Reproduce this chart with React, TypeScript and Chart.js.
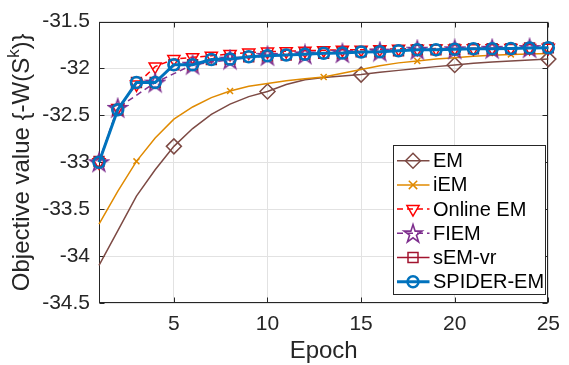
import React, { useEffect, useRef } from 'react';
import { Chart, registerables } from 'chart.js';

Chart.register(...registerables);

// ---------- data ----------
const epochs = [1, 2, 3, 4, 5, 6, 7, 8, 9, 10, 11, 12, 13, 14, 15, 16, 17, 18, 19, 20, 21, 22, 23, 24, 25];

const emValues = [-34.1, -33.73, -33.36, -33.08, -32.83, -32.64, -32.49, -32.38, -32.3, -32.245, -32.17, -32.12, -32.095, -32.08, -32.065, -32.04, -32.02, -32.0, -31.98, -31.962, -31.945, -31.93, -31.92, -31.91, -31.9];
const emMarkerEpochs = [5, 10, 15, 20, 25];

const iemValues = [-33.66, -33.31, -32.99, -32.74, -32.54, -32.41, -32.31, -32.24, -32.19, -32.16, -32.13, -32.11, -32.09, -32.05, -32.01, -31.97, -31.94, -31.92, -31.9, -31.885, -31.87, -31.86, -31.85, -31.845, -31.84];
const iemMarkerEpochs = [3, 8, 13, 18, 23];

const onlineEmValues = [-33.0, -32.42, -32.17, -31.98, -31.9, -31.88, -31.865, -31.845, -31.83, -31.82, -31.815, -31.81, -31.805, -31.8, -31.8, -31.795, -31.79, -31.79, -31.788, -31.786, -31.785, -31.784, -31.782, -31.781, -31.78];

const fiemEpochs = [1, 2, 4, 6, 8, 10, 12, 14, 16, 18, 20, 22, 24];
const fiemValues = [-33.0, -32.42, -32.15, -31.96, -31.905, -31.865, -31.85, -31.835, -31.82, -31.8, -31.795, -31.79, -31.782];

const semvrValues = [-32.99, -32.44, -32.15, -32.15, -31.96, -31.96, -31.905, -31.9, -31.875, -31.865, -31.857, -31.847, -31.837, -31.835, -31.823, -31.822, -31.81, -31.8, -31.8, -31.795, -31.79, -31.79, -31.788, -31.782, -31.78];

const spiderValues = [-33.0, -32.44, -32.15, -32.15, -31.96, -31.96, -31.905, -31.9, -31.875, -31.865, -31.857, -31.847, -31.837, -31.835, -31.823, -31.822, -31.81, -31.8, -31.8, -31.795, -31.79, -31.79, -31.788, -31.782, -31.78];

const xTicks = [5, 10, 15, 20, 25];
const yTicks = [-34.5, -34, -33.5, -33, -32.5, -32, -31.5];
const yTickLabels = ['-34.5', '-34', '-33.5', '-33', '-32.5', '-32', '-31.5'];

const legendLabels = ['EM', 'iEM', 'Online EM', 'FIEM', 'sEM-vr', 'SPIDER-EM'];
const xTitle = 'Epoch';

// ---------- styles ----------
const FONT = '"Liberation Sans", Arial, Helvetica, sans-serif';
const AXIS_COLOR = '#262626';
const GRID_COLOR = '#E2E2E2';
const C_EM = '#7D4A44';
const C_IEM = '#E08A00';
const C_ONLINE = '#FF0000';
const C_FIEM = '#7E2F8E';
const C_SEMVR = '#A2142F';
const C_SPIDER = '#0072BD';

function starPath(ctx: CanvasRenderingContext2D, cx: number, cy: number, R: number) {
  const r = R * 0.382;
  ctx.beginPath();
  for (let i = 0; i < 10; i++) {
    const ang = -Math.PI / 2 + (i * Math.PI) / 5;
    const rad = i % 2 === 0 ? R : r;
    const px = cx + Math.cos(ang) * rad;
    const py = cy + Math.sin(ang) * rad;
    if (i === 0) ctx.moveTo(px, py);
    else ctx.lineTo(px, py);
  }
  ctx.closePath();
}

function makeStarCanvas(): HTMLCanvasElement {
  const c = document.createElement('canvas');
  c.width = 22;
  c.height = 22;
  const ctx = c.getContext('2d')!;
  ctx.strokeStyle = C_FIEM;
  ctx.lineWidth = 1.6;
  ctx.lineJoin = 'miter';
  starPath(ctx, 11, 11.8, 9.5);
  ctx.stroke();
  return c;
}

function drawLegendMarker(ctx: CanvasRenderingContext2D, kind: string, x: number, y: number, color: string) {
  ctx.save();
  ctx.strokeStyle = color;
  ctx.fillStyle = '#fff';
  ctx.setLineDash([]);
  if (kind === 'diamond') {
    ctx.lineWidth = 1.5;
    const r = 7.5;
    ctx.beginPath();
    ctx.moveTo(x, y - r);
    ctx.lineTo(x + r, y);
    ctx.lineTo(x, y + r);
    ctx.lineTo(x - r, y);
    ctx.closePath();
    ctx.stroke();
  } else if (kind === 'x') {
    ctx.lineWidth = 1.5;
    const r = 4.2;
    ctx.beginPath();
    ctx.moveTo(x - r, y - r);
    ctx.lineTo(x + r, y + r);
    ctx.moveTo(x + r, y - r);
    ctx.lineTo(x - r, y + r);
    ctx.stroke();
  } else if (kind === 'tri') {
    ctx.lineWidth = 1.5;
    const r = 7;
    ctx.beginPath();
    for (let i = 0; i < 3; i++) {
      const a = Math.PI / 2 + (i * 2 * Math.PI) / 3;
      const px = x + Math.cos(a) * r;
      const py = y + Math.sin(a) * r;
      if (i === 0) ctx.moveTo(px, py);
      else ctx.lineTo(px, py);
    }
    ctx.closePath();
    ctx.stroke();
  } else if (kind === 'star') {
    ctx.lineWidth = 1.6;
    starPath(ctx, x, y + 0.8, 9.5);
    ctx.stroke();
  } else if (kind === 'square') {
    ctx.lineWidth = 1.5;
    const h = 5;
    ctx.strokeRect(x - h, y - h, 2 * h, 2 * h);
  } else if (kind === 'circle') {
    ctx.lineWidth = 2.5;
    ctx.beginPath();
    ctx.arc(x, y, 5.5, 0, Math.PI * 2);
    ctx.stroke();
  }
  ctx.restore();
}

const legendSpecs = [
  { color: C_EM, dash: [] as number[], width: 1.5, marker: 'diamond' },
  { color: C_IEM, dash: [] as number[], width: 1.5, marker: 'x' },
  { color: C_ONLINE, dash: [6, 4], width: 1.5, marker: 'tri' },
  { color: C_FIEM, dash: [6, 4], width: 1.5, marker: 'star' },
  { color: C_SEMVR, dash: [] as number[], width: 1.5, marker: 'square' },
  { color: C_SPIDER, dash: [] as number[], width: 3, marker: 'circle' },
];

const decorPlugin = {
  id: 'decor',
  beforeDatasetsDraw(chart: any) {
    const { ctx, chartArea } = chart;
    const xs = chart.scales.x;
    const ys = chart.scales.y;
    const L = Math.round(chartArea.left) + 0.5;
    const R = Math.round(chartArea.right) - 0.5;
    const T = Math.round(chartArea.top) + 0.5;
    const B = Math.round(chartArea.bottom) - 0.5;
    ctx.save();
    ctx.strokeStyle = AXIS_COLOR;
    ctx.lineWidth = 1;
    ctx.strokeRect(L, T, R - L, B - T);
    const tl = 5;
    ctx.beginPath();
    xTicks.forEach((v) => {
      const px = Math.round(xs.getPixelForValue(v)) + 0.5;
      ctx.moveTo(px, B);
      ctx.lineTo(px, B - tl);
      ctx.moveTo(px, T);
      ctx.lineTo(px, T + tl);
    });
    yTicks.forEach((v) => {
      const py = Math.round(ys.getPixelForValue(v)) + 0.5;
      ctx.moveTo(L, py);
      ctx.lineTo(L + tl, py);
      ctx.moveTo(R, py);
      ctx.lineTo(R - tl, py);
    });
    ctx.stroke();
    ctx.restore();
  },
  afterDraw(chart: any) {
    const { ctx, chartArea } = chart;
    ctx.save();
    // y-axis title with superscript
    const f = 24;
    const p1 = 'Objective value {-W(S';
    const p2 = 'k';
    const p3 = ')}';
    ctx.fillStyle = AXIS_COLOR;
    ctx.font = `${f}px ${FONT}`;
    const w1 = ctx.measureText(p1).width;
    const w3 = ctx.measureText(p3).width;
    ctx.font = `${f * 0.7}px ${FONT}`;
    const w2 = ctx.measureText(p2).width;
    const total = w1 + w2 + w3;
    ctx.translate(29, (chartArea.top + chartArea.bottom) / 2);
    ctx.rotate(-Math.PI / 2);
    ctx.textBaseline = 'alphabetic';
    ctx.textAlign = 'left';
    const sx = -total / 2;
    ctx.font = `${f}px ${FONT}`;
    ctx.fillText(p1, sx, 0);
    ctx.font = `${f * 0.7}px ${FONT}`;
    ctx.fillText(p2, sx + w1, -f * 0.42);
    ctx.font = `${f}px ${FONT}`;
    ctx.fillText(p3, sx + w1 + w2, 0);
    ctx.restore();

    // x-axis title
    ctx.save();
    ctx.fillStyle = AXIS_COLOR;
    ctx.font = `${f}px ${FONT}`;
    ctx.textAlign = 'center';
    ctx.textBaseline = 'alphabetic';
    ctx.fillText(xTitle, (chartArea.left + chartArea.right) / 2, 358);
    ctx.restore();

    // legend
    ctx.save();
    const bx = 393.5, by = 145.5, bw = 152, bh = 149;
    ctx.fillStyle = '#fff';
    ctx.fillRect(bx, by, bw, bh);
    ctx.strokeStyle = AXIS_COLOR;
    ctx.lineWidth = 1;
    ctx.strokeRect(bx, by, bw, bh);
    legendLabels.forEach((label, i) => {
      const spec = legendSpecs[i];
      const y = 160.7 + i * 24.2;
      ctx.save();
      ctx.strokeStyle = spec.color;
      ctx.lineWidth = spec.width;
      ctx.setLineDash(spec.dash);
      ctx.beginPath();
      ctx.moveTo(397, y);
      ctx.lineTo(429.5, y);
      ctx.stroke();
      ctx.restore();
      drawLegendMarker(ctx, spec.marker, 413, y, spec.color);
      ctx.fillStyle = '#000';
      ctx.font = `20px ${FONT}`;
      ctx.textAlign = 'left';
      ctx.textBaseline = 'middle';
      ctx.fillText(label, 433, y + 1);
    });
    ctx.restore();
  },
};

function toPoints(xs: number[], ys: number[]) {
  return xs.map((x, i) => ({ x, y: ys[i] }));
}

export default function App() {
  const canvasRef = useRef<HTMLCanvasElement | null>(null);

  useEffect(() => {
    if (!canvasRef.current) return;
    const star = makeStarCanvas();
    const emRadius = epochs.map((e) => (emMarkerEpochs.includes(e) ? 7.5 : 0));
    const iemRadius = epochs.map((e) => (iemMarkerEpochs.includes(e) ? 4.2 : 0));
    const chart = new Chart(canvasRef.current, {
      type: 'line',
      data: {
        datasets: [
          {
            label: legendLabels[5],
            data: toPoints(epochs, spiderValues),
            borderColor: C_SPIDER,
            backgroundColor: 'rgba(0,0,0,0)',
            borderWidth: 3,
            pointStyle: 'circle',
            pointRadius: 5.5,
            pointBorderWidth: 2.5,
            pointBorderColor: C_SPIDER,
            pointBackgroundColor: 'rgba(0,0,0,0)',
            order: 0,
            clip: false,
          } as any,
          {
            label: legendLabels[4],
            data: toPoints(epochs, semvrValues),
            borderColor: C_SEMVR,
            backgroundColor: 'rgba(0,0,0,0)',
            borderWidth: 1.5,
            pointStyle: 'rect',
            pointRadius: 7,
            pointBorderWidth: 1.5,
            pointBorderColor: C_SEMVR,
            pointBackgroundColor: 'rgba(0,0,0,0)',
            order: 1,
            clip: false,
          },
          {
            label: legendLabels[3],
            data: toPoints(fiemEpochs, fiemValues),
            borderColor: C_FIEM,
            backgroundColor: 'rgba(0,0,0,0)',
            borderWidth: 1.5,
            borderDash: [6, 4],
            pointStyle: star,
            pointRadius: 9,
            order: 2,
            clip: false,
          },
          {
            label: legendLabels[2],
            data: toPoints(epochs, onlineEmValues),
            borderColor: C_ONLINE,
            backgroundColor: 'rgba(0,0,0,0)',
            borderWidth: 1.5,
            borderDash: [6, 4],
            pointStyle: 'triangle',
            rotation: 180,
            pointRadius: 7,
            pointBorderWidth: 1.5,
            pointBorderColor: C_ONLINE,
            pointBackgroundColor: 'rgba(0,0,0,0)',
            order: 3,
            clip: false,
          } as any,
          {
            label: legendLabels[1],
            data: toPoints(epochs, iemValues),
            borderColor: C_IEM,
            backgroundColor: 'rgba(0,0,0,0)',
            borderWidth: 1.5,
            pointStyle: 'crossRot',
            pointRadius: iemRadius,
            pointBorderWidth: 1.5,
            pointBorderColor: C_IEM,
            order: 4,
            clip: false,
          },
          {
            label: legendLabels[0],
            data: toPoints(epochs, emValues),
            borderColor: C_EM,
            backgroundColor: 'rgba(0,0,0,0)',
            borderWidth: 1.5,
            pointStyle: 'rectRot',
            pointRadius: emRadius,
            pointBorderWidth: 1.5,
            pointBorderColor: C_EM,
            pointBackgroundColor: 'rgba(0,0,0,0)',
            order: 5,
            clip: false,
          },
        ],
      },
      options: {
        animation: false,
        responsive: true,
        maintainAspectRatio: false,
        events: [],
        layout: { padding: { left: 0, right: 14, top: 15, bottom: 0 } },
        plugins: {
          legend: { display: false },
          tooltip: { enabled: false },
          title: { display: false },
        },
        elements: { line: { tension: 0 } },
        scales: {
          x: {
            type: 'linear',
            min: 1,
            max: 25,
            afterBuildTicks: (s: any) => {
              s.ticks = xTicks.map((v) => ({ value: v }));
            },
            afterFit: (s: any) => {
              s.height = 62;
            },
            grid: { color: GRID_COLOR, drawTicks: false, lineWidth: 1 },
            border: { display: false },
            ticks: {
              font: { family: FONT, size: 21 },
              color: AXIS_COLOR,
              padding: 9,
              maxRotation: 0,
              autoSkip: false,
              callback: (v: any) => String(v),
            },
          },
          y: {
            type: 'linear',
            min: -34.5,
            max: -31.5,
            afterBuildTicks: (s: any) => {
              s.ticks = yTicks.map((v) => ({ value: v }));
            },
            afterFit: (s: any) => {
              s.width = 99;
            },
            grid: { color: GRID_COLOR, drawTicks: false, lineWidth: 1 },
            border: { display: false },
            ticks: {
              font: { family: FONT, size: 21 },
              color: AXIS_COLOR,
              padding: 9,
              autoSkip: false,
              callback: (v: any) => {
                const idx = yTicks.indexOf(Number(v));
                return idx >= 0 ? yTickLabels[idx] : String(v);
              },
            },
          },
        },
      },
      plugins: [decorPlugin],
    });
    return () => chart.destroy();
  }, []);

  return (
    <div style={{ position: 'absolute', left: 0, top: 0, width: 569, height: 365, background: '#fff' }}>
      <canvas ref={canvasRef} />
    </div>
  );
}
